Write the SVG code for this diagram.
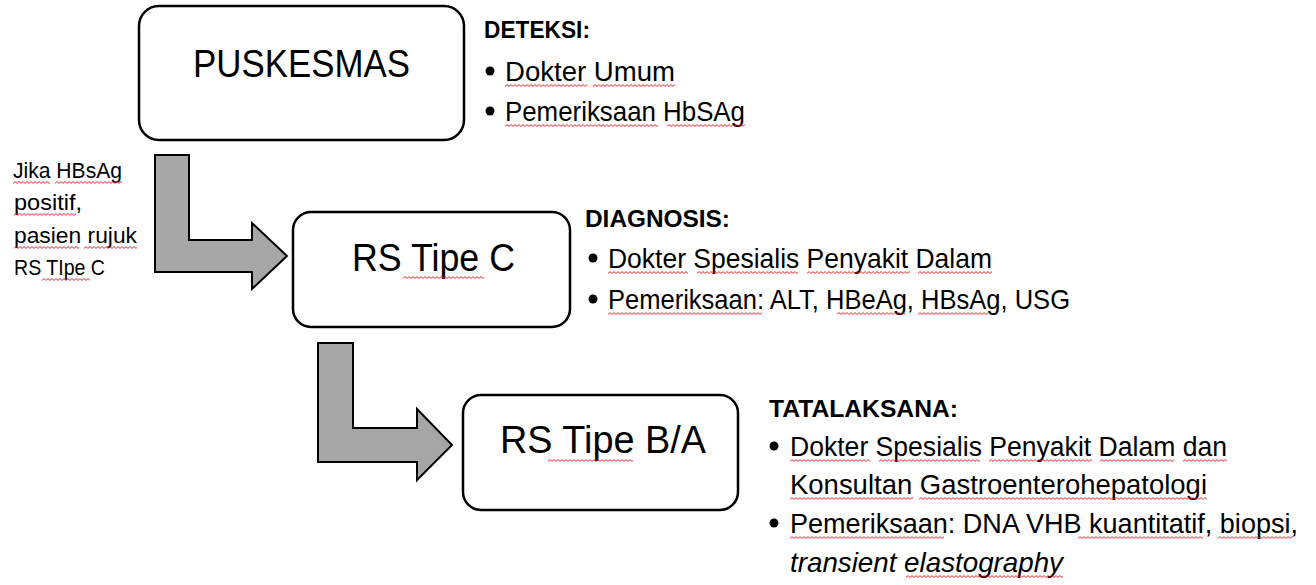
<svg xmlns="http://www.w3.org/2000/svg" width="1316" height="585" viewBox="0 0 1316 585">
<style>
.box{fill:#fff;stroke:#000;stroke-width:2.5}
.arr{fill:#a6a6a6;stroke:#000;stroke-width:2;stroke-linejoin:miter}
.lbl{font-family:"Liberation Sans",Arial,sans-serif;font-size:38px;fill:#000}
.hdr{font-family:"Liberation Sans",Arial,sans-serif;font-size:23px;font-weight:bold;fill:#000}
.bt{font-family:"Liberation Sans",Arial,sans-serif;font-size:27.5px;fill:#000}
.nt{font-family:"Liberation Sans",Arial,sans-serif;font-size:22px;fill:#000}
.it{font-style:italic}
.sq{fill:url(#wave)}
</style>
<defs>
<pattern id="wave" patternUnits="userSpaceOnUse" width="4" height="3">
<path d="M0,2.4 L2,0.6 L4,2.4" fill="none" stroke="#e8141c" stroke-width="0.9"/>
</pattern>
</defs>
<rect width="1316" height="585" fill="#fff"/>

<g id="connectors">
<path class="arr" d="M155,155 H189 V240 H252 V223 L287,256 L252,289 V272 H155 Z"/>
<path class="arr" d="M318,343 H353 V428 H417 V409 L452,445 L417,480 V462 H318 Z"/>
<g id="note-rujuk">
<text class="nt" x="13" y="178" textLength="109" lengthAdjust="spacingAndGlyphs">Jika HBsAg</text>
<text class="nt" x="14" y="210" textLength="68" lengthAdjust="spacingAndGlyphs">positif,</text>
<text class="nt" x="14" y="243" textLength="123" lengthAdjust="spacingAndGlyphs">pasien rujuk</text>
<text class="nt" x="14" y="275" textLength="91" lengthAdjust="spacingAndGlyphs">RS TIpe C</text>
<rect class="sq" transform="translate(13,181)" width="37" height="3"/>
<rect class="sq" transform="translate(55,181)" width="67" height="3"/>
<rect class="sq" transform="translate(14,213)" width="62" height="3"/>
<rect class="sq" transform="translate(14,246)" width="65" height="3"/>
<rect class="sq" transform="translate(84,246)" width="53" height="3"/>
<rect class="sq" transform="translate(42,278)" width="48" height="3"/>
</g>
</g>

<g id="node-puskesmas">
<rect class="box" x="139" y="6" width="325" height="134" rx="20"/>
<text class="lbl" x="193" y="77" textLength="217" lengthAdjust="spacingAndGlyphs">PUSKESMAS</text>
</g>

<g id="node-rs-c">
<rect class="box" x="293" y="212" width="277" height="115" rx="18"/>
<text class="lbl" x="352" y="271" textLength="163" lengthAdjust="spacingAndGlyphs">RS Tipe C</text>
<rect class="sq" transform="translate(403,276)" width="81" height="3"/>
</g>

<g id="node-rs-ba">
<rect class="box" x="463" y="395" width="275" height="115" rx="18"/>
<text class="lbl" x="500" y="453" textLength="206" lengthAdjust="spacingAndGlyphs">RS Tipe B/A</text>
<rect class="sq" transform="translate(548,459)" width="85" height="3"/>
</g>

<g id="info-deteksi">
<text class="hdr" x="484" y="38" textLength="106" lengthAdjust="spacingAndGlyphs">DETEKSI:</text>
<circle cx="490" cy="71" r="4.5"/>
<text class="bt" x="505" y="81" textLength="170" lengthAdjust="spacingAndGlyphs">Dokter Umum</text>
<circle cx="490" cy="111" r="4.5"/>
<text class="bt" x="505" y="121" textLength="240" lengthAdjust="spacingAndGlyphs">Pemeriksaan HbSAg</text>
<rect class="sq" transform="translate(505,84)" width="82" height="3"/>
<rect class="sq" transform="translate(593,84)" width="82" height="3"/>
<rect class="sq" transform="translate(505,124)" width="153" height="3"/>
<rect class="sq" transform="translate(667,124)" width="78" height="3"/>
</g>

<g id="info-diagnosis">
<text class="hdr" x="585" y="227" textLength="145" lengthAdjust="spacingAndGlyphs">DIAGNOSIS:</text>
<circle cx="593" cy="258" r="4.5"/>
<text class="bt" x="608" y="268" textLength="384" lengthAdjust="spacingAndGlyphs">Dokter Spesialis Penyakit Dalam</text>
<circle cx="593" cy="299" r="4.5"/>
<text class="bt" x="608" y="309" textLength="462" lengthAdjust="spacingAndGlyphs">Pemeriksaan: ALT, HBeAg, HBsAg, USG</text>
<rect class="sq" transform="translate(608,271)" width="80" height="3"/>
<rect class="sq" transform="translate(697,271)" width="101" height="3"/>
<rect class="sq" transform="translate(807,271)" width="103" height="3"/>
<rect class="sq" transform="translate(918,271)" width="74" height="3"/>
<rect class="sq" transform="translate(608,312)" width="154" height="3"/>
<rect class="sq" transform="translate(837,312)" width="68" height="3"/>
<rect class="sq" transform="translate(918,312)" width="70" height="3"/>
</g>

<g id="info-tatalaksana">
<text class="hdr" x="769" y="417" textLength="189" lengthAdjust="spacingAndGlyphs">TATALAKSANA:</text>
<circle cx="774" cy="446" r="4.5"/>
<text class="bt" x="790" y="456" textLength="437" lengthAdjust="spacingAndGlyphs">Dokter Spesialis Penyakit Dalam dan</text>
<text class="bt" x="790" y="494" textLength="417" lengthAdjust="spacingAndGlyphs">Konsultan Gastroenterohepatologi</text>
<circle cx="774" cy="523" r="4.5"/>
<text class="bt" x="790" y="533" textLength="508" lengthAdjust="spacingAndGlyphs">Pemeriksaan: DNA VHB kuantitatif, biopsi,</text>
<text class="bt it" x="790" y="572" textLength="273" lengthAdjust="spacingAndGlyphs">transient elastography</text>
<rect class="sq" transform="translate(790,459)" width="80" height="3"/>
<rect class="sq" transform="translate(879,459)" width="101" height="3"/>
<rect class="sq" transform="translate(989,459)" width="103" height="3"/>
<rect class="sq" transform="translate(1100,459)" width="74" height="3"/>
<rect class="sq" transform="translate(1183,459)" width="44" height="3"/>
<rect class="sq" transform="translate(790,497)" width="123" height="3"/>
<rect class="sq" transform="translate(919,497)" width="288" height="3"/>
<rect class="sq" transform="translate(790,536)" width="154" height="3"/>
<rect class="sq" transform="translate(1078,536)" width="125" height="3"/>
<rect class="sq" transform="translate(1218,536)" width="75" height="3"/>
<rect class="sq" transform="translate(906,575)" width="157" height="3"/>
</g>
</svg>
